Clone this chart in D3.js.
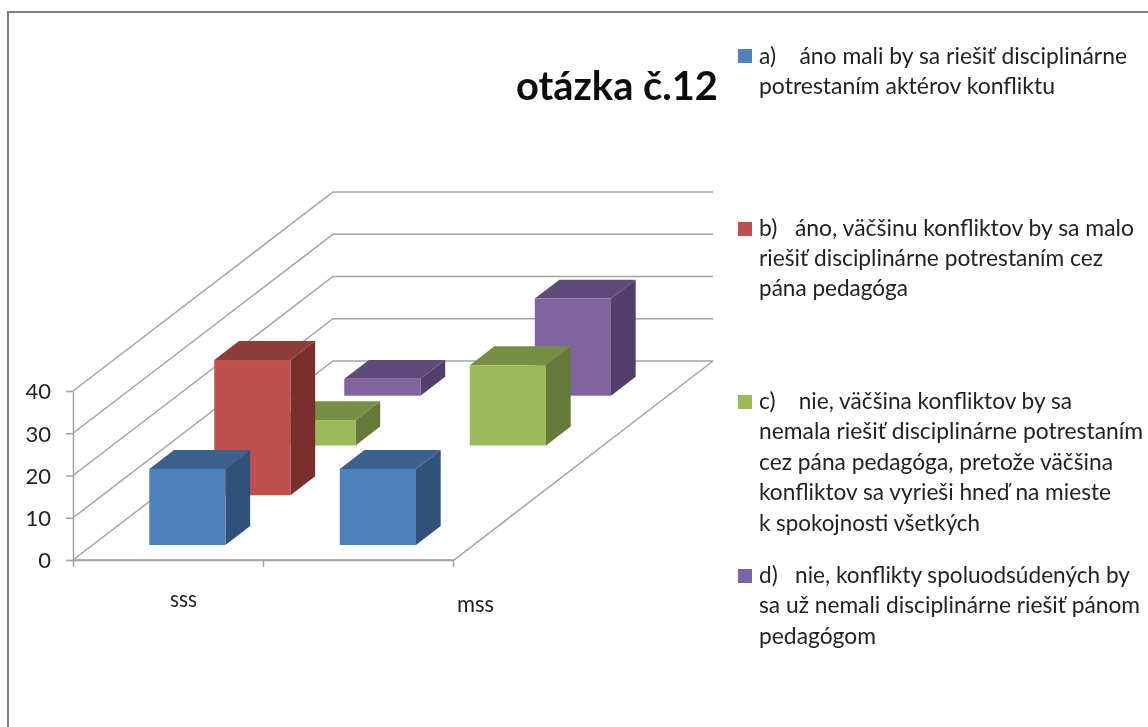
<!DOCTYPE html>
<html>
<head>
<meta charset="utf-8">
<script src="https://cdn.jsdelivr.net/npm/d3@7"></script>
<style>
html,body{margin:0;padding:0;background:#fff}
svg{display:block;filter:blur(0.45px)}
text{font-family:Lato,"Noto Sans",sans-serif;fill:#222;white-space:pre}
</style>
</head>
<body>
<svg id="chart" width="1148" height="727"></svg>
<script>
const title = "otázka č.12";
const categories = ["sss", "mss"];
const seriesNames = ["a", "b", "c", "d"];
const seriesA = [18, 18];
const seriesB = [32, 0];
const seriesC = [6, 19];
const seriesD = [4, 23];
const yTicks = [0, 10, 20, 30, 40];
const legendA = ["a)\u00a0\u00a0\u00a0\u00a0áno mali by sa riešiť disciplinárne", "potrestaním aktérov konfliktu"];
const legendB = ["b)\u00a0\u00a0\u00a0áno, väčšinu konfliktov by sa malo", "riešiť disciplinárne potrestaním cez", "pána pedagóga"];
const legendC = ["c)\u00a0\u00a0\u00a0\u00a0nie, väčšina konfliktov by sa", "nemala riešiť disciplinárne potrestaním", "cez pána pedagóga, pretože väčšina", "konfliktov sa vyrieši hneď na mieste", "k spokojnosti všetkých"];
const legendD = ["d)\u00a0\u00a0\u00a0nie, konflikty spoluodsúdených by", "sa už nemali disciplinárne riešiť pánom", "pedagógom"];

const valuesBySeries = [seriesA, seriesB, seriesC, seriesD];
const legends = [legendA, legendB, legendC, legendD];
const colors = [
  {front:"#4f81bd", top:"#3c618e", side:"#30527a"},
  {front:"#c0504d", top:"#8f3b39", side:"#7a2f2d"},
  {front:"#9bbb59", top:"#768f45", side:"#657a39"},
  {front:"#8064a2", top:"#5f4b79", side:"#533f6b"}
];

// layout
const x0 = 73, x1 = 454, y0 = 560, yTop = 391, depthDX = 260, depthDY = 199, backRight = 713;
const gridColor = "#a3a3a3";
const legendStyle = [
  {swatch:49,  base:[64,94],               right:[1127,1055]},
  {swatch:222, base:[236,266,296],         right:[1134,1103,908]},
  {swatch:395, base:[409,439,470,500,531], right:[1072,1143,1113,1111,980]},
  {swatch:569, base:[583,613,644],         right:[1130,1140,876]}
];

const svg = d3.select("#chart");
const x = d3.scaleBand().domain(categories).range([x0 - 0.5, x1 - 0.5]).paddingInner(0.6).paddingOuter(0.3);
const y = d3.scaleLinear().domain([0, 40]).range([y0, yTop]);
const depth = d3.scaleBand().domain(seriesNames).range([-0.4, depthDY - 0.4]).paddingInner(0.62).paddingOuter(0.31);
const shear = d => d * depthDX / depthDY;

// frame
svg.append("path").attr("d", "M8,727V12H1148").attr("fill", "none").attr("stroke", "#808080").attr("stroke-width", 2);

// walls and floor
const walls = svg.append("g").attr("fill", "none").attr("stroke", gridColor).attr("stroke-width", 1.5);
walls.selectAll("path.grid").data(yTicks).join("path").attr("class", "grid")
  .attr("d", t => `M${x0},${y(t)}L${x0 + depthDX},${y(t) - depthDY}H${backRight}`);
walls.append("path").attr("d", `M${x0},${y0}H${x1}L${x1 + depthDX - 1},${y0 - depthDY}`);

// axes
const yAxis = svg.append("g").attr("transform", `translate(${x0},0)`)
  .call(d3.axisLeft(y).tickValues(yTicks).tickSize(7).tickSizeOuter(0).tickPadding(15));
const xTickScale = d3.scaleLinear().domain([0, categories.length]).range([x0, x1 - 1]);
const xAxis = svg.append("g").attr("transform", `translate(0,${y0})`)
  .call(d3.axisBottom(xTickScale).tickValues(d3.range(categories.length + 1)).tickFormat("").tickSize(7).tickSizeOuter(0));
[yAxis, xAxis].forEach(a => { a.selectAll("path,line").attr("stroke", gridColor).attr("stroke-width", 1.5); });
yAxis.selectAll("text").attr("font-size", 22).attr("fill", "#222").attr("dy", "0.36em")
  .style("font-family", "Lato");

// bars, drawn back to front
const bars = [];
seriesNames.forEach((s, si) => categories.forEach((c, ci) => {
  if (valuesBySeries[si][ci] > 0) bars.push({si, c, s, v: valuesBySeries[si][ci]});
}));
bars.sort((a, b) => b.si - a.si);
const bw = x.bandwidth(), bd = depth.bandwidth();
const barG = svg.selectAll("g.bar").data(bars).join("g").attr("class", "bar");
barG.each(function (d) {
  const g = d3.select(this);
  const dz = depth(d.s);
  const left = x(d.c) + shear(dz), base = y0 - dz, top = base - (y(0) - y(d.v));
  const ox = shear(bd), oy = bd;
  g.append("path").attr("fill", colors[d.si].side)
    .attr("d", `M${left + bw},${base}V${top}L${left + bw + ox},${top - oy}V${base - oy}Z`);
  g.append("path").attr("fill", colors[d.si].top)
    .attr("d", `M${left},${top}H${left + bw}L${left + bw + ox},${top - oy}H${left + ox}Z`);
  g.append("rect").attr("fill", colors[d.si].front)
    .attr("x", left).attr("y", top).attr("width", bw).attr("height", base - top);
});

// category labels
svg.append("text").attr("x", 170).attr("y", 607).attr("font-size", 23).attr("textLength", 27).attr("lengthAdjust", "spacingAndGlyphs").text(categories[0]);
svg.append("text").attr("x", 457).attr("y", 612).attr("font-size", 23).attr("textLength", 37).attr("lengthAdjust", "spacingAndGlyphs").text(categories[1]);

// title
svg.append("text").attr("x", 516).attr("y", 100).attr("font-size", 40).attr("font-weight", 700)
  .style("fill", "#0c0c0c").attr("textLength", 202).attr("lengthAdjust", "spacingAndGlyphs").text(title);

// legend
legends.forEach((lines, i) => {
  const st = legendStyle[i];
  svg.append("rect").attr("x", 738).attr("y", st.swatch).attr("width", 14).attr("height", 14).attr("fill", colors[i].front);
  lines.forEach((t, j) => {
    svg.append("text").attr("x", 759).attr("y", st.base[j]).attr("font-size", 22.5)
      .attr("textLength", st.right[j] - 759).attr("lengthAdjust", "spacingAndGlyphs").text(t);
  });
});
</script>
</body>
</html>
